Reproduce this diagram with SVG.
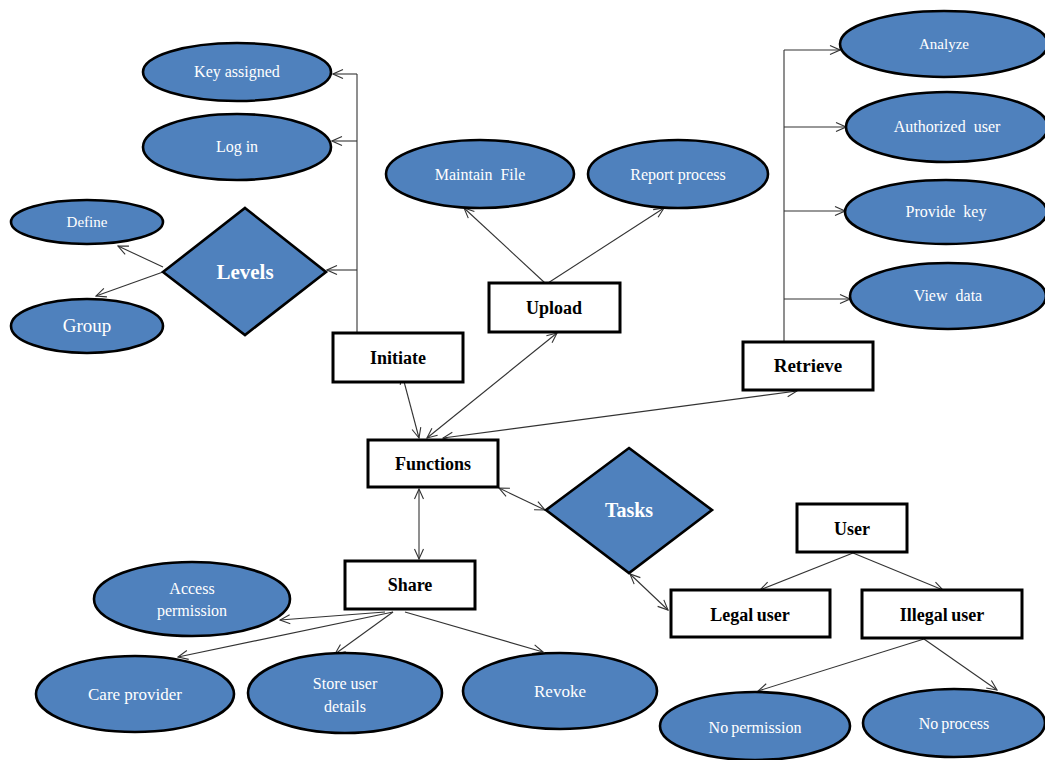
<svg xmlns="http://www.w3.org/2000/svg" width="1045" height="760" viewBox="0 0 1045 760">
<defs>
<style>
.e{fill:#4f81bd;stroke:#000;stroke-width:2.6}
.b{fill:#fff;stroke:#000;stroke-width:3}
.d{fill:#4f81bd;stroke:#000;stroke-width:2.6}
.et{font-family:"Liberation Serif","Times New Roman","DejaVu Serif",serif;font-size:16px;fill:#fff;text-anchor:middle}
.bt{font-family:"Liberation Serif","Times New Roman","DejaVu Serif",serif;font-size:18px;font-weight:bold;fill:#000;text-anchor:middle}
.dt{font-family:"Liberation Serif","Times New Roman","DejaVu Serif",serif;font-size:21px;font-weight:bold;fill:#fff;text-anchor:middle}
.c line{stroke:#333;stroke-width:1.1;fill:none}
.a{marker-end:url(#ar)}
.ab{marker-end:url(#ar);marker-start:url(#ar)}
</style>
<marker id="ar" viewBox="0 0 12 12" refX="11" refY="6" markerWidth="12" markerHeight="12" markerUnits="userSpaceOnUse" orient="auto-start-reverse">
<path d="M1,1.5 L11,6 L1,10.5" fill="none" stroke="#333" stroke-width="1.1"/>
</marker>
</defs>
<rect width="1045" height="760" fill="#fff"/>
<g id="connectors" class="c">
<line x1="357" y1="333" x2="357" y2="74"/>
<line class="a" x1="357" y1="74" x2="333" y2="74"/>
<line class="a" x1="357" y1="141" x2="332" y2="141"/>
<line class="a" x1="357" y1="270" x2="327" y2="270"/>
<line class="a" x1="163" y1="267" x2="118" y2="246"/>
<line class="a" x1="163" y1="272" x2="96" y2="296"/>
<line class="a" x1="545" y1="283" x2="464" y2="208"/>
<line class="a" x1="548" y1="283" x2="664" y2="208"/>
<line x1="784" y1="342" x2="784" y2="50"/>
<line class="a" x1="784" y1="50" x2="840" y2="50"/>
<line class="a" x1="784" y1="127" x2="846" y2="127"/>
<line class="a" x1="784" y1="211" x2="845" y2="211"/>
<line class="a" x1="784" y1="299" x2="850" y2="299"/>
<line class="ab" x1="402" y1="374" x2="419" y2="438"/>
<line class="ab" x1="557" y1="333" x2="427" y2="438"/>
<line class="ab" x1="797" y1="391" x2="443" y2="438"/>
<line class="ab" x1="419" y1="489" x2="419" y2="559"/>
<line class="ab" x1="499" y1="488" x2="545" y2="510"/>
<line class="ab" x1="630" y1="574" x2="668" y2="610"/>
<line class="a" x1="853" y1="553" x2="760" y2="590"/>
<line class="a" x1="853" y1="553" x2="943" y2="590"/>
<line class="a" x1="924" y1="639" x2="758" y2="691"/>
<line class="a" x1="924" y1="639" x2="997" y2="690"/>
<line class="a" x1="385" y1="612" x2="280" y2="620"/>
<line class="a" x1="393" y1="612" x2="178" y2="657"/>
<line class="a" x1="393" y1="612" x2="335" y2="654"/>
<line class="a" x1="405" y1="612" x2="543" y2="652"/>
</g>
<g id="key-assigned"><ellipse class="e" cx="237" cy="72" rx="94" ry="29"/><text class="et" x="237" y="77">Key assigned</text></g>
<g id="log-in"><ellipse class="e" cx="237" cy="147" rx="94" ry="33"/><text class="et" x="237" y="152">Log in</text></g>
<g id="define"><ellipse class="e" cx="87" cy="222" rx="76" ry="22"/><text class="et" x="87" y="227" style="font-size:15px">Define</text></g>
<g id="group"><ellipse class="e" cx="87" cy="326" rx="76" ry="27"/><text class="et" x="87" y="332" style="font-size:19px">Group</text></g>
<g id="levels"><polygon class="d" points="245,208 326,272 245,335 163,272"/><text class="dt" x="245" y="279">Levels</text></g>
<g id="initiate"><rect class="b" x="333" y="333" width="130" height="49"/><text class="bt" x="398" y="364">Initiate</text></g>
<g id="maintain-file"><ellipse class="e" cx="480" cy="174" rx="94" ry="34"/><text class="et" x="480" y="180" xml:space="preserve">Maintain  File</text></g>
<g id="report-process"><ellipse class="e" cx="678" cy="174" rx="90" ry="34"/><text class="et" x="678" y="180">Report process</text></g>
<g id="upload"><rect class="b" x="489" y="283" width="131" height="49"/><text class="bt" x="554" y="314">Upload</text></g>
<g id="analyze"><ellipse class="e" cx="944" cy="44" rx="104" ry="33"/><text class="et" x="944" y="49" style="font-size:15px">Analyze</text></g>
<g id="authorized-user"><ellipse class="e" cx="947" cy="127" rx="101" ry="35"/><text class="et" x="947" y="132" xml:space="preserve">Authorized  user</text></g>
<g id="provide-key"><ellipse class="e" cx="946" cy="212" rx="101" ry="32"/><text class="et" x="946" y="217" xml:space="preserve">Provide  key</text></g>
<g id="view-data"><ellipse class="e" cx="948" cy="296" rx="98" ry="33"/><text class="et" x="948" y="301" xml:space="preserve">View  data</text></g>
<g id="retrieve"><rect class="b" x="743" y="342" width="130" height="48"/><text class="bt" x="808" y="372" style="font-size:19px">Retrieve</text></g>
<g id="functions"><rect class="b" x="368" y="440" width="130" height="47"/><text class="bt" x="433" y="470">Functions</text></g>
<g id="tasks"><polygon class="d" points="629,448 712,510 629,573 546,510"/><text class="dt" x="629" y="517" style="font-size:20px">Tasks</text></g>
<g id="share"><rect class="b" x="345" y="561" width="130" height="48"/><text class="bt" x="410" y="591">Share</text></g>
<g id="access-permission"><ellipse class="e" cx="192" cy="599" rx="98" ry="37"/><text class="et" x="192" y="594">Access</text><text class="et" x="192" y="616">permission</text></g>
<g id="care-provider"><ellipse class="e" cx="135" cy="694" rx="99" ry="38"/><text class="et" x="135" y="700" style="font-size:17px">Care provider</text></g>
<g id="store-user-details"><ellipse class="e" cx="345" cy="693" rx="97" ry="40"/><text class="et" x="345" y="689">Store user</text><text class="et" x="345" y="712">details</text></g>
<g id="revoke"><ellipse class="e" cx="560" cy="691" rx="97" ry="38"/><text class="et" x="560" y="697" style="font-size:17px">Revoke</text></g>
<g id="user"><rect class="b" x="797" y="504" width="110" height="48"/><text class="bt" x="852" y="535">User</text></g>
<g id="legal-user"><rect class="b" x="671" y="590" width="159" height="47"/><text class="bt" x="750" y="621" style="word-spacing:-1px">Legal user</text></g>
<g id="illegal-user"><rect class="b" x="862" y="590" width="160" height="48"/><text class="bt" x="942" y="621" style="word-spacing:-1px">Illegal user</text></g>
<g id="no-permission"><ellipse class="e" cx="755" cy="726" rx="95" ry="34"/><text class="et" x="755" y="733" style="word-spacing:-1px">No permission</text></g>
<g id="no-process"><ellipse class="e" cx="954" cy="723" rx="91" ry="34"/><text class="et" x="954" y="729" style="word-spacing:-1px">No process</text></g>
</svg>
